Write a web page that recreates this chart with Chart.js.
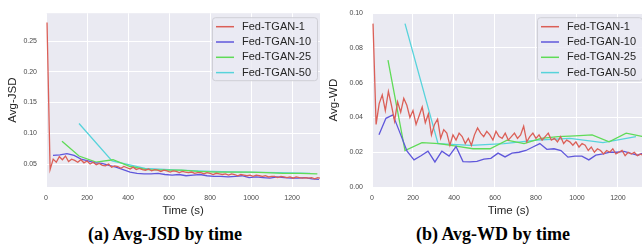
<!DOCTYPE html>
<html>
<head>
<meta charset="utf-8">
<script src="https://cdn.jsdelivr.net/npm/chart.js@4.4.0/dist/chart.umd.min.js"></script>
<style>
  html, body { margin: 0; padding: 0; background: #fff; }
  body { width: 642px; height: 252px; position: relative; overflow: hidden; }
  .panel { position: absolute; top: 0; }
  .caption {
    position: absolute; top: 224px; text-align: center;
    font-family: "Liberation Serif", serif; font-weight: bold; font-size: 18px; color: #000;
  }
</style>
</head>
<body>
<div class="panel" style="left:0; width:321px; height:222px;"><canvas id="jsdChart" width="321" height="222"></canvas></div>
<div class="panel" style="left:321px; width:324px; height:222px;"><canvas id="wdChart" width="324" height="222"></canvas></div>
<div class="caption" style="left:0; width:330px;">(a) Avg-JSD by time</div>
<div class="caption" style="left:330px; width:326px;">(b) Avg-WD by time</div>
<script>
// === Data ===
const seriesNames = ['Fed-TGAN-1', 'Fed-TGAN-10', 'Fed-TGAN-25', 'Fed-TGAN-50'];
const seriesColors = ['#db5f57', '#5f57db', '#5fdb57', '#57d3db'];

const timeTicks = [0, 200, 400, 600, 800, 1000, 1200];
const jsdTicks = [0.05, 0.10, 0.15, 0.20, 0.25];
const wdTicks = [0.00, 0.02, 0.04, 0.06, 0.08, 0.10];

// Fed-TGAN-1 is logged every 15 s starting at 5 s
const timesTgan1Start = 5;
const timesTgan1Step = 15;
const jsdTgan1 = [
  0.280, 0.041, 0.058, 0.053, 0.062, 0.057, 0.063, 0.054, 0.058, 0.056,
  0.053, 0.057, 0.052, 0.055, 0.050, 0.053, 0.049, 0.051, 0.048, 0.047,
  0.050, 0.045, 0.047, 0.046, 0.043, 0.046, 0.044, 0.042, 0.045, 0.041,
  0.043, 0.041, 0.040, 0.042, 0.039, 0.041, 0.040, 0.038, 0.040, 0.039,
  0.037, 0.039, 0.038, 0.036, 0.038, 0.037, 0.036, 0.037, 0.035, 0.036,
  0.036, 0.034, 0.036, 0.035, 0.033, 0.035, 0.034, 0.033, 0.034, 0.032,
  0.034, 0.033, 0.031, 0.033, 0.032, 0.031, 0.032, 0.030, 0.032, 0.031,
  0.030, 0.031, 0.029, 0.030, 0.030, 0.028, 0.030, 0.029, 0.028, 0.029,
  0.027, 0.029, 0.028, 0.027, 0.028, 0.027, 0.028, 0.026, 0.028, 0.027
];
const wdTgan1 = [
  0.094, 0.036, 0.048, 0.053, 0.044, 0.055, 0.047, 0.038, 0.049, 0.043,
  0.051, 0.047, 0.040, 0.044, 0.036, 0.041, 0.046, 0.037, 0.042, 0.030,
  0.036, 0.039, 0.028, 0.033, 0.031, 0.024, 0.030, 0.027, 0.031, 0.029,
  0.025, 0.028, 0.024, 0.030, 0.034, 0.031, 0.029, 0.032, 0.030, 0.027,
  0.032, 0.029, 0.028, 0.031, 0.027, 0.029, 0.031, 0.028, 0.030, 0.035,
  0.026, 0.029, 0.031, 0.028, 0.030, 0.027, 0.029, 0.031, 0.027, 0.028,
  0.026, 0.029, 0.025, 0.027, 0.026, 0.024, 0.026, 0.023, 0.025, 0.024,
  0.021, 0.023, 0.020, 0.022, 0.021, 0.019, 0.021, 0.020, 0.022, 0.019,
  0.020, 0.021, 0.018, 0.020, 0.019, 0.020, 0.018, 0.019, 0.018, 0.019
];

const timesTgan10 = [34, 68, 102, 137, 171, 205, 239, 273, 307, 341, 376, 410, 444, 478, 512,
  546, 580, 615, 649, 683, 717, 751, 785, 819, 853, 888, 922, 956, 990, 1024,
  1058, 1092, 1127, 1161, 1195, 1229, 1263, 1297, 1331];
const jsdTgan10 = [0.064, 0.065, 0.067, 0.064, 0.058, 0.055, 0.052, 0.051, 0.048, 0.045,
  0.041, 0.037, 0.035, 0.034, 0.034, 0.035, 0.033, 0.032, 0.033, 0.031,
  0.032, 0.033, 0.031, 0.030, 0.030, 0.029, 0.030, 0.031, 0.028, 0.029,
  0.028, 0.027, 0.029, 0.028, 0.027, 0.027, 0.028, 0.026, 0.025];
const wdTgan10 = [0.030, 0.0395, 0.0415, 0.031, 0.0206, 0.0156, 0.018, 0.0206, 0.0144, 0.0206,
  0.0178, 0.0233, 0.0146, 0.0144, 0.0148, 0.016, 0.0165, 0.0195, 0.0173, 0.0195,
  0.020, 0.021, 0.023, 0.025, 0.0217, 0.022, 0.021, 0.0172, 0.0178, 0.0178,
  0.0156, 0.0183, 0.019, 0.020, 0.020, 0.0205, 0.0194, 0.0183, 0.020];

const timesTgan25 = [78, 161, 244, 327, 410, 493, 576, 659, 742, 825, 908, 991, 1074, 1157, 1240, 1323];
const jsdTgan25 = [0.087, 0.063, 0.053, 0.057, 0.046, 0.041, 0.040, 0.040, 0.038, 0.037,
  0.037, 0.037, 0.036, 0.035, 0.035, 0.034];
const wdTgan25 = [0.073, 0.021, 0.0255, 0.025, 0.0235, 0.022, 0.022, 0.027, 0.025, 0.028,
  0.029, 0.0294, 0.030, 0.026, 0.031, 0.029];

const timesTgan50 = [161, 322, 483, 644, 805, 966, 1127, 1288];
const jsdTgan50 = [0.116, 0.055, 0.043, 0.040, 0.038, 0.037, 0.036, 0.035];
const wdTgan50 = [0.094, 0.025, 0.024, 0.025, 0.027, 0.028, 0.0255, 0.029];

// === helpers ===
function toPoints(times, values) {
  return values.map((v, i) => ({ x: times[i], y: v }));
}
function tgan1Times(n) {
  const t = [];
  for (let i = 0; i < n; i++) t.push(timesTgan1Start + i * timesTgan1Step);
  return t;
}

const plotBackground = {
  id: 'plotBackground',
  beforeDraw(chart) {
    const { ctx, chartArea: a } = chart;
    ctx.save();
    ctx.fillStyle = '#eaeaf2';
    ctx.fillRect(a.left, a.top, a.right - a.left, a.bottom - a.top);
    ctx.restore();
  }
};

// legend drawn inside the plot, top right, like matplotlib's
const innerLegend = {
  id: 'innerLegend',
  afterDraw(chart) {
    const { ctx, chartArea: a } = chart;
    const w = 105, h = 63;
    const x = a.right - 3 - w, y = a.top + 4;
    ctx.save();
    ctx.beginPath();
    ctx.roundRect(x + 0.5, y + 0.5, w, h, 3);
    ctx.fillStyle = 'rgba(234,234,242,0.8)';
    ctx.fill();
    ctx.strokeStyle = '#cfcfd6';
    ctx.lineWidth = 1;
    ctx.stroke();
    ctx.font = '11px "Liberation Sans", Arial, sans-serif';
    ctx.textBaseline = 'middle';
    chart.data.datasets.forEach((ds, i) => {
      const cy = y + 9.5 + i * 15.3;
      ctx.strokeStyle = ds.borderColor;
      ctx.lineWidth = 1.5;
      ctx.beginPath();
      ctx.moveTo(x + 4, cy);
      ctx.lineTo(x + 22, cy);
      ctx.stroke();
      ctx.fillStyle = '#262626';
      ctx.fillText(ds.label, x + 30, cy);
    });
    ctx.restore();
  }
};

function makeChart(id, series, yTicks, yMin, yMax, yLabel, yWidth, xMax, rightPad) {
  const datasets = series.map((pts, i) => ({
    label: seriesNames[i],
    data: pts,
    borderColor: seriesColors[i],
    backgroundColor: seriesColors[i],
    borderWidth: 1.3,
    pointRadius: 0,
    tension: 0,
    fill: false
  }));
  const tickFont = { family: '"Liberation Sans", Arial, sans-serif', size: 7 };
  const titleFont = { family: '"Liberation Sans", Arial, sans-serif', size: 11.5 };
  return new Chart(document.getElementById(id), {
    type: 'line',
    data: { datasets },
    options: {
      responsive: false,
      animation: false,
      layout: { padding: { top: 9, right: rightPad, bottom: 0, left: 0 } },
      plugins: { legend: { display: false }, tooltip: { enabled: false } },
      scales: {
        x: {
          type: 'linear', min: 0, max: xMax,
          afterBuildTicks: s => { s.ticks = timeTicks.map(v => ({ value: v })); },
          afterFit: s => { s.height = 35; },
          grid: { color: '#ffffff', lineWidth: 1, drawTicks: false },
          border: { display: false },
          ticks: { font: tickFont, color: '#4a4a4a', padding: 7, maxRotation: 0, autoSkip: false,
                   callback: v => String(v) },
          title: { display: true, text: 'Time (s)', font: titleFont, color: '#262626', padding: { top: 0, bottom: 4 } }
        },
        y: {
          type: 'linear', min: yMin, max: yMax,
          afterBuildTicks: s => { s.ticks = yTicks.map(v => ({ value: v })); },
          afterFit: s => { s.width = yWidth; },
          grid: { color: '#ffffff', lineWidth: 1, drawTicks: false },
          border: { display: false },
          ticks: { font: tickFont, color: '#4a4a4a', padding: 9, callback: v => v.toFixed(2) },
          title: { display: true, text: yLabel, font: titleFont, color: '#262626', padding: { top: 6, bottom: 0 } }
        }
      }
    },
    plugins: [plotBackground, innerLegend]
  });
}

makeChart('jsdChart', [
  toPoints(tgan1Times(jsdTgan1.length), jsdTgan1),
  toPoints(timesTgan10, jsdTgan10),
  toPoints(timesTgan25, jsdTgan25),
  toPoints(timesTgan50, jsdTgan50)
], jsdTicks, 0.0127, 0.2952, 'Avg-JSD', 46, 1336, 1);

makeChart('wdChart', [
  toPoints(tgan1Times(wdTgan1.length), wdTgan1),
  toPoints(timesTgan10, wdTgan10),
  toPoints(timesTgan25, wdTgan25),
  toPoints(timesTgan50, wdTgan50)
], wdTicks, 0, 0.1, 'Avg-WD', 51, 1332, 0);
</script>
</body>
</html>
